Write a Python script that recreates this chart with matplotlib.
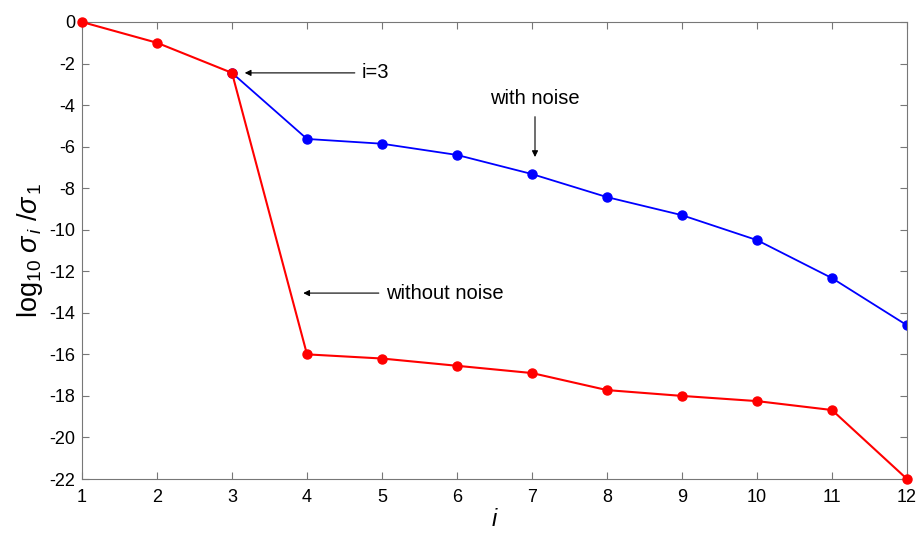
import matplotlib.pyplot as plt

plt.rcParams.update({
    'font.family': ['Liberation Sans', 'DejaVu Sans'],
    'font.size': 13,
    'axes.unicode_minus': False,
    'xtick.direction': 'in',
    'ytick.direction': 'in',
    'xtick.top': True,
    'ytick.right': True,
    'mathtext.fontset': 'custom',
    'mathtext.rm': 'Liberation Sans',
    'mathtext.it': 'Liberation Sans:italic',
})

idx = list(range(1, 13))
without_noise = [0, -1.0, -2.45, -16.0, -16.2, -16.55, -16.9, -17.72, -18.0, -18.25, -18.68, -22.0]
with_noise = [0, -1.0, -2.45, -5.63, -5.86, -6.4, -7.32, -8.43, -9.3, -10.5, -12.33, -14.6]

fig = plt.figure(figsize=(9.18, 5.34), dpi=100)
ax = fig.add_axes([82 / 918, 1 - 479 / 534, 825 / 918, 457 / 534])

ax.plot(idx[2:], with_noise[2:], color='#0000ff', lw=1.3, marker='o', ms=6.5, zorder=2)
ax.plot(idx, without_noise, color='#ff0000', lw=1.5, marker='o', ms=6.5, zorder=3, clip_on=False)

ax.set_xlim(1, 12)
ax.set_ylim(-22, 0)
ax.set_xticks(idx)
ax.set_yticks(range(-22, 1, 2))
for s in ax.spines.values():
    s.set_color('#777777')
ax.tick_params(colors='#777777', labelcolor='black', length=5, labelsize=13)
ax.tick_params(axis='x', pad=7)
ax.tick_params(axis='y', pad=5)

ax.set_xlabel('$i$', fontsize=17, labelpad=2)
ax.set_ylabel(r'log$_{10}$ $\sigma_{\,i}$ /$\sigma_{\,1}$', fontsize=19.5, labelpad=3)

arw = dict(arrowstyle='-|>', color='black', lw=0.8, mutation_scale=9, shrinkA=0, shrinkB=0)
ax.annotate('i=3', xy=(3.17, -2.45), xytext=(4.73, -2.45), ha='left', va='center',
            fontsize=14.5, arrowprops=dict(arw, shrinkA=3))
ax.annotate('with noise', xy=(7.04, -6.5), xytext=(7.04, -3.7), ha='center', va='center',
            fontsize=14.5, arrowprops=dict(arw, shrinkA=4))
ax.annotate('without noise', xy=(3.95, -13.05), xytext=(5.05, -13.05), ha='left', va='center',
            fontsize=14.5, arrowprops=dict(arw, shrinkA=3))

fig.savefig('out.png', dpi=100)
